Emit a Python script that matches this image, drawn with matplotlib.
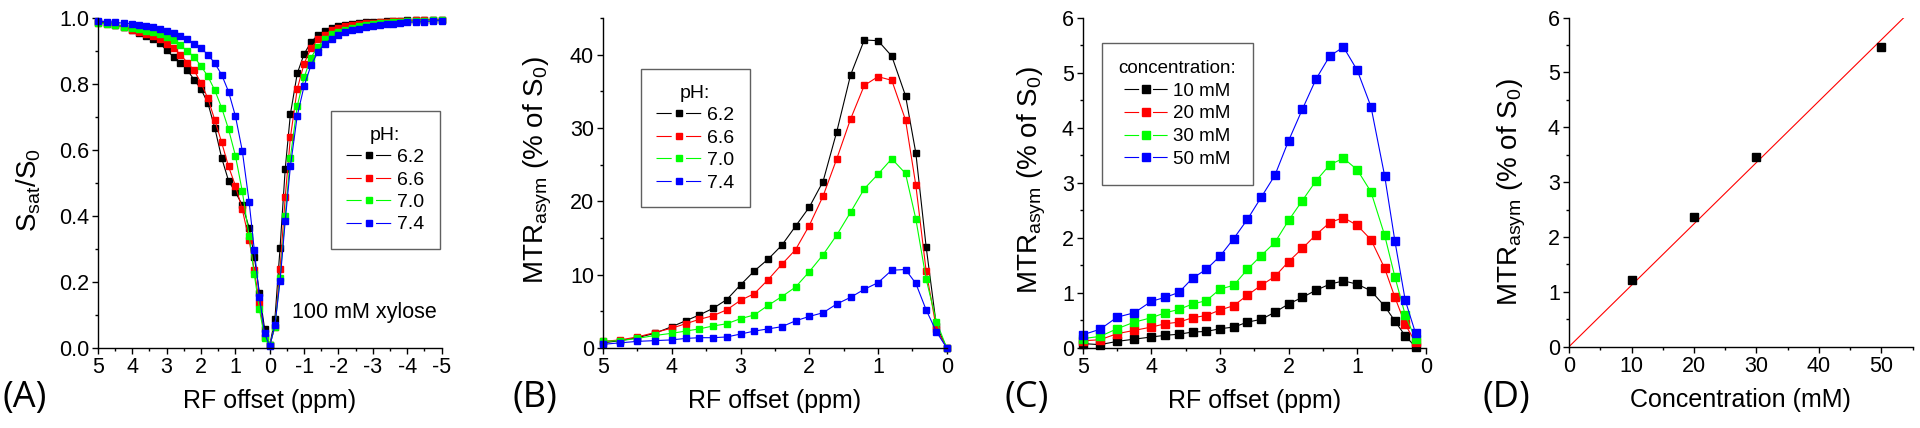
import numpy as np
import matplotlib
matplotlib.use('Agg')
import matplotlib.pyplot as plt
from matplotlib.ticker import MultipleLocator

plt.rcParams['font.family'] = ['Liberation Sans', 'DejaVu Sans']
plt.rcParams['mathtext.fontset'] = 'custom'
plt.rcParams['mathtext.rm'] = 'Liberation Sans'
plt.rcParams['mathtext.it'] = 'Liberation Sans:italic'
plt.rcParams['axes.unicode_minus'] = False

# RF offsets (ppm), positive side 5 -> 0
offsets = [5, 4.75, 4.5, 4.25, 4, 3.8, 3.6, 3.4, 3.2, 3.0, 2.8, 2.6, 2.4, 2.2, 2.0,
           1.8, 1.6, 1.4, 1.2, 1.0, 0.8, 0.6, 0.45, 0.3, 0.15, 0]
offsets_neg = [-0.15, -0.3, -0.45, -0.6, -0.8, -1.0, -1.2, -1.4, -1.6, -1.8, -2.0, -2.2,
               -2.4, -2.6, -2.8, -3.0, -3.2, -3.4, -3.6, -3.8, -4, -4.25, -4.5, -4.75, -5]

ph_labels = ['6.2', '6.6', '7.0', '7.4']
colors = ['#000000', '#ff0000', '#00ff00', '#0000ff']

# (A) Z-spectra, Ssat/S0, positive side then negative side
z62_pos = [0.988, 0.984, 0.980, 0.973, 0.964, 0.955, 0.946, 0.936, 0.923, 0.902, 0.882, 0.864, 0.842,
           0.813, 0.784, 0.742, 0.667, 0.576, 0.507, 0.472, 0.434, 0.364, 0.277, 0.166, 0.058, 0.008]
z62_neg = [0.088, 0.304, 0.543, 0.708, 0.832, 0.891, 0.927, 0.948, 0.962, 0.969, 0.976, 0.979, 0.982,
           0.985, 0.987, 0.988, 0.989, 0.990, 0.991, 0.992, 0.993, 0.993, 0.994, 0.994, 0.995]
z66_pos = [0.985, 0.983, 0.978, 0.972, 0.965, 0.958, 0.951, 0.945, 0.936, 0.921, 0.910, 0.889, 0.865,
           0.841, 0.803, 0.756, 0.691, 0.623, 0.550, 0.492, 0.420, 0.327, 0.235, 0.135, 0.034, 0.008]
z66_neg = [0.065, 0.240, 0.457, 0.638, 0.785, 0.862, 0.908, 0.935, 0.949, 0.963, 0.970, 0.975, 0.979,
           0.982, 0.984, 0.986, 0.988, 0.989, 0.990, 0.991, 0.992, 0.993, 0.993, 0.994, 0.994]
z70_pos = [0.984, 0.983, 0.979, 0.974, 0.970, 0.966, 0.962, 0.956, 0.951, 0.942, 0.934, 0.917, 0.900,
           0.882, 0.854, 0.823, 0.781, 0.728, 0.663, 0.583, 0.475, 0.339, 0.223, 0.117, 0.030, 0.008]
z70_neg = [0.065, 0.213, 0.400, 0.577, 0.733, 0.820, 0.880, 0.913, 0.935, 0.950, 0.958, 0.965, 0.970,
           0.975, 0.979, 0.982, 0.984, 0.986, 0.988, 0.989, 0.990, 0.991, 0.992, 0.993, 0.993]
z74_pos = [0.990, 0.989, 0.987, 0.984, 0.983, 0.978, 0.975, 0.972, 0.967, 0.960, 0.953, 0.946, 0.936,
           0.922, 0.908, 0.889, 0.863, 0.828, 0.777, 0.703, 0.598, 0.442, 0.297, 0.155, 0.044, 0.005]
z74_neg = [0.069, 0.203, 0.385, 0.550, 0.704, 0.794, 0.857, 0.896, 0.922, 0.937, 0.949, 0.957, 0.963,
           0.968, 0.972, 0.976, 0.979, 0.981, 0.983, 0.985, 0.987, 0.988, 0.989, 0.991, 0.992]

# (B) MTRasym (%) for pH series
mtr62 = [0.7, 1.0, 1.4, 2.0, 2.9, 3.7, 4.5, 5.4, 6.6, 8.6, 10.5, 12.1, 14.0, 16.6, 19.2, 22.7, 29.5,
         37.2, 42.0, 41.9, 39.8, 34.4, 26.6, 13.8, 3.0, 0.0]
mtr66 = [0.9, 1.1, 1.5, 2.1, 2.7, 3.3, 3.9, 4.4, 5.2, 6.5, 7.4, 9.3, 11.4, 13.4, 16.7, 20.7, 25.8,
         31.2, 35.8, 37.0, 36.5, 31.1, 22.2, 10.5, 2.6, 0.0]
mtr70 = [0.9, 1.0, 1.3, 1.7, 2.0, 2.3, 2.6, 3.0, 3.3, 4.0, 4.5, 5.8, 7.0, 8.3, 10.4, 12.7, 15.4,
         18.5, 21.7, 23.7, 25.8, 23.8, 17.6, 9.4, 3.6, 0.0]
mtr74 = [0.5, 0.7, 0.9, 1.0, 1.1, 1.3, 1.4, 1.4, 1.5, 1.9, 2.3, 2.6, 2.9, 3.7, 4.3, 4.8, 6.0,
         6.9, 8.0, 8.9, 10.6, 10.7, 8.8, 5.2, 2.2, 0.0]

# (C) MTRasym (%) for concentration series (no point at 0 ppm)
conc_labels = ['10 mM', '20 mM', '30 mM', '50 mM']
c10 = [0.08, 0.06, 0.12, 0.16, 0.20, 0.23, 0.25, 0.29, 0.30, 0.35, 0.38, 0.47, 0.52, 0.65, 0.80,
       0.92, 1.05, 1.16, 1.22, 1.16, 1.04, 0.76, 0.49, 0.22, 0.02]
c20 = [0.13, 0.15, 0.26, 0.32, 0.38, 0.44, 0.47, 0.55, 0.59, 0.69, 0.77, 0.96, 1.14, 1.30, 1.57,
       1.81, 2.06, 2.28, 2.37, 2.23, 1.97, 1.45, 0.92, 0.43, 0.10]
c30 = [0.17, 0.21, 0.35, 0.47, 0.55, 0.64, 0.70, 0.80, 0.86, 1.07, 1.14, 1.43, 1.68, 1.92, 2.32,
       2.68, 3.04, 3.33, 3.45, 3.24, 2.84, 2.05, 1.29, 0.60, 0.16]
c50 = [0.24, 0.34, 0.56, 0.64, 0.85, 0.92, 1.01, 1.27, 1.43, 1.67, 1.99, 2.34, 2.74, 3.14, 3.77,
       4.34, 4.89, 5.31, 5.47, 5.05, 4.39, 3.13, 1.94, 0.87, 0.27]

# (D) peak MTRasym vs concentration
conc = [10, 20, 30, 50]
peak = [1.22, 2.37, 3.45, 5.47]

LW = 0.8


def style_axes(ax):
    ax.spines['top'].set_visible(False)
    ax.spines['right'].set_visible(False)
    for s in ['left', 'bottom']:
        ax.spines[s].set_linewidth(1.0)
    ax.tick_params(which='major', direction='out', length=4.5, width=1.0, labelsize=15.5, pad=2)
    ax.tick_params(which='minor', direction='out', length=2.5, width=1.0)


def fix_legend(leg, fontsize, handlelength):
    leg.get_frame().set_edgecolor('#606060')
    leg.get_frame().set_linewidth(1.0)
    # origin style handle: segment, gap, marker, gap, segment
    total = fontsize * handlelength
    gap = total * 0.32
    seg = (total - gap) / 2
    for ln in leg.get_lines():
        ln.set_dashes((seg / LW, gap / LW))


fig = plt.figure(figsize=(19.2, 4.28), dpi=100)
axA = fig.add_axes([0.051, 0.187, 0.179, 0.771])
axB = fig.add_axes([0.3141, 0.187, 0.179, 0.771])
axC = fig.add_axes([0.564, 0.187, 0.1786, 0.771])
axD = fig.add_axes([0.8172, 0.19, 0.179, 0.769])

# (A)
xz = offsets + offsets_neg
zdata = [z62_pos + z62_neg, z66_pos + z66_neg, z70_pos + z70_neg, z74_pos + z74_neg]
for y, c, lab in zip(zdata, colors, ph_labels):
    axA.plot(xz, y, color=c, lw=LW, marker='s', ms=4.5, mec=c, label=lab, clip_on=False)
axA.set_xlim(5, -5)
axA.set_ylim(0, 1.0)
axA.xaxis.set_major_locator(MultipleLocator(1))
axA.xaxis.set_minor_locator(MultipleLocator(0.5))
axA.yaxis.set_major_locator(MultipleLocator(0.2))
axA.yaxis.set_minor_locator(MultipleLocator(0.1))
axA.yaxis.set_major_formatter(matplotlib.ticker.FormatStrFormatter('%.1f'))
style_axes(axA)
axA.set_xlabel('RF offset (ppm)', fontsize=18, labelpad=8)
axA.set_ylabel(r'$\mathrm{S_{sat}/S_0}$', fontsize=20)
axA.yaxis.set_label_coords(-0.20, 0.48)
axA.yaxis.label.set_verticalalignment('center')
axA.text(0.564, 0.106, '100 mM xylose', transform=axA.transAxes, fontsize=15.5, va='center')
leg = axA.legend(title='pH:', loc='upper left', bbox_to_anchor=(0.677, 0.718), fontsize=14,
                 title_fontsize=14, fancybox=False, framealpha=1, borderaxespad=0,
                 handlelength=2.3, handletextpad=0.3, labelspacing=0.25, borderpad=0.8)
fix_legend(leg, 14, 2.3)

# (B)
for y, c, lab in zip([mtr62, mtr66, mtr70, mtr74], colors, ph_labels):
    axB.plot(offsets, y, color=c, lw=LW, marker='s', ms=4.5, mec=c, label=lab, clip_on=False)
axB.set_xlim(5, 0)
axB.set_ylim(0, 45)
axB.xaxis.set_major_locator(MultipleLocator(1))
axB.xaxis.set_minor_locator(MultipleLocator(0.5))
axB.yaxis.set_major_locator(MultipleLocator(10))
axB.yaxis.set_minor_locator(MultipleLocator(5))
style_axes(axB)
axB.set_xlabel('RF offset (ppm)', fontsize=18, labelpad=8)
axB.set_ylabel(r'$\mathrm{MTR_{asym}}$ (% of $\mathrm{S_0}$)', fontsize=20)
axB.yaxis.set_label_coords(-0.19, 0.54)
axB.yaxis.label.set_verticalalignment('center')
leg = axB.legend(title='pH:', loc='upper left', bbox_to_anchor=(0.110, 0.845), fontsize=14,
                 title_fontsize=14, fancybox=False, framealpha=1, borderaxespad=0,
                 handlelength=2.3, handletextpad=0.3, labelspacing=0.25, borderpad=0.8)
fix_legend(leg, 14, 2.3)

# (C)
for y, c, lab in zip([c10, c20, c30, c50], colors, conc_labels):
    axC.plot(offsets[:-1], y, color=c, lw=LW, marker='s', ms=6, mec=c, label=lab, clip_on=False)
axC.set_xlim(5, 0)
axC.set_ylim(0, 6)
axC.xaxis.set_major_locator(MultipleLocator(1))
axC.xaxis.set_minor_locator(MultipleLocator(0.5))
axC.yaxis.set_major_locator(MultipleLocator(1))
axC.yaxis.set_minor_locator(MultipleLocator(0.5))
style_axes(axC)
axC.set_xlabel('RF offset (ppm)', fontsize=18, labelpad=8)
axC.set_ylabel(r'$\mathrm{MTR_{asym}}$ (% of $\mathrm{S_0}$)', fontsize=20)
axC.yaxis.set_label_coords(-0.15, 0.51)
axC.yaxis.label.set_verticalalignment('center')
leg = axC.legend(title='concentration:', loc='upper left', bbox_to_anchor=(0.055, 0.924), fontsize=13.5,
                 title_fontsize=13.5, fancybox=False, framealpha=1, borderaxespad=0,
                 handlelength=2.3, handletextpad=0.3, labelspacing=0.3, borderpad=0.9)
fix_legend(leg, 13.5, 2.3)

# (D)
cx = np.array(conc, dtype=float)
cy = np.array(peak)
slope = np.sum(cx * cy) / np.sum(cx * cx)
xfit = np.array([0, 55])
axD.plot(xfit, slope * xfit, color='#ff0000', lw=LW)
axD.plot(conc, peak, 's', color='black', ms=5.5, clip_on=False)
axD.set_xlim(0, 55)
axD.set_ylim(0, 6)
axD.xaxis.set_major_locator(MultipleLocator(10))
axD.xaxis.set_minor_locator(MultipleLocator(5))
axD.yaxis.set_major_locator(MultipleLocator(1))
axD.yaxis.set_minor_locator(MultipleLocator(0.5))
style_axes(axD)
axD.set_xlabel('Concentration (mM)', fontsize=18, labelpad=8)
axD.set_ylabel(r'$\mathrm{MTR_{asym}}$ (% of $\mathrm{S_0}$)', fontsize=20)
axD.yaxis.set_label_coords(-0.166, 0.47)
axD.yaxis.label.set_verticalalignment('center')

# panel letters
for x, s in zip([3, 512, 1005, 1482], ['(A)', '(B)', '(C)', '(D)']):
    fig.text(x / 1920, 1 - 398 / 428, s, fontsize=26, family='Open Sans', va='center')

fig.savefig('out.png', dpi=100)
